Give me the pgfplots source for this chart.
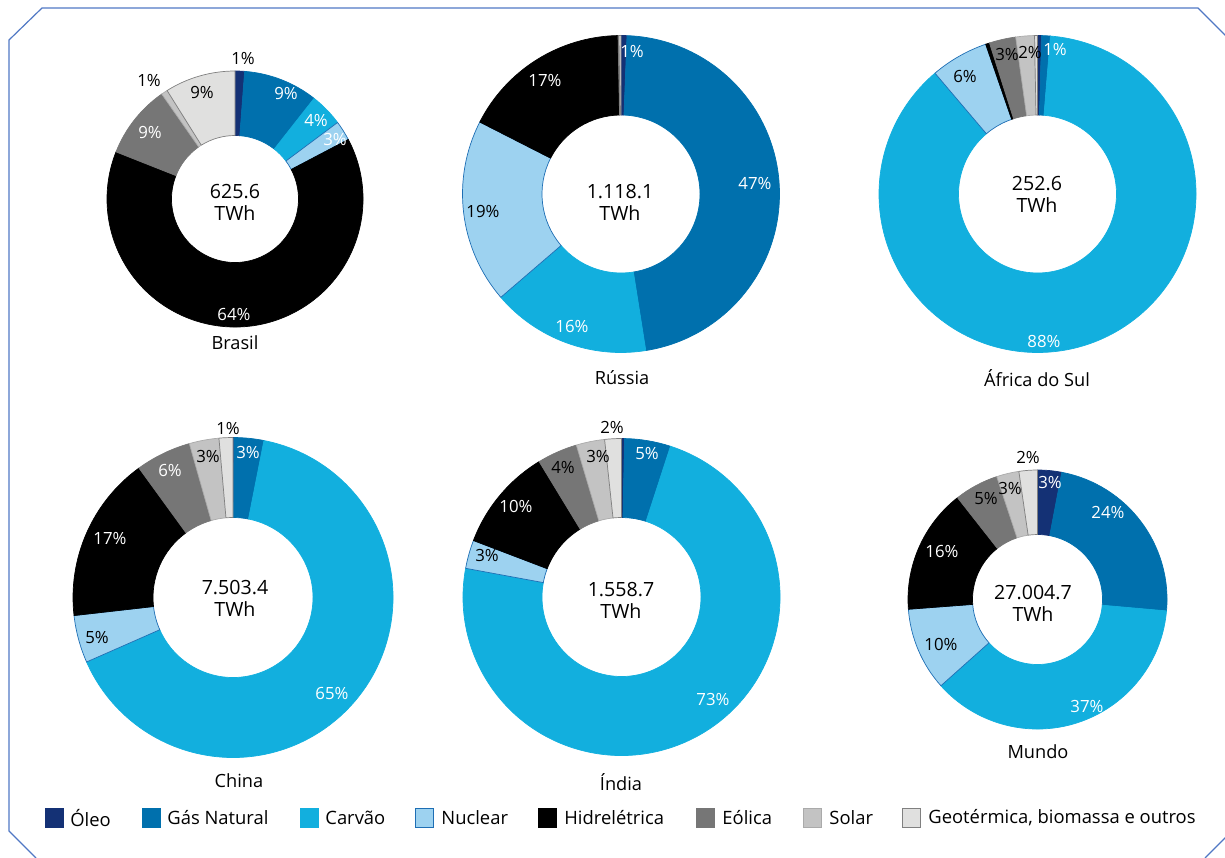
\documentclass[border=0pt]{standalone}
\usepackage{pgfplots}
\pgfplotsset{compat=1.18}
\usepackage{fontspec}
\setmainfont{Open Sans}
\definecolor{slice1}{RGB}{20,49,117}
\definecolor{slice2}{RGB}{0,112,173}
\definecolor{slice3}{RGB}{18,175,222}
\definecolor{slice4}{RGB}{157,210,240}
\definecolor{slice5}{RGB}{0,0,0}
\definecolor{slice6}{RGB}{118,118,118}
\definecolor{slice7}{RGB}{195,195,195}
\definecolor{slice8}{RGB}{224,224,223}
\definecolor{bslice1}{RGB}{20,49,117}
\definecolor{bslice2}{RGB}{0,112,173}
\definecolor{bslice3}{RGB}{18,175,222}
\definecolor{bslice4}{RGB}{30,110,180}
\definecolor{bslice5}{RGB}{0,0,0}
\definecolor{bslice6}{RGB}{118,118,118}
\definecolor{bslice7}{RGB}{170,170,170}
\definecolor{bslice8}{RGB}{128,128,128}
\definecolor{frame}{RGB}{80,120,196}
% shares (%) in order: Oleo, Gas Natural, Carvao, Nuclear, Hidreletrica, Eolica, Solar, Geotermica
\def\dataBrasil{1.2,9.4,4.2,2.5,63.7,9.3,0.8,8.9}
\def\dataRussia{0.6,46.9,16.2,18.8,17.2,0.1,0,0.2}
\def\dataAfrica{0.4,0.9,87.5,5.9,0.4,2.7,1.9,0.3}
\def\dataChina{0.1,3.0,65.3,4.8,16.8,5.6,3.0,1.4}
\def\dataIndia{0.3,4.7,72.9,2.9,10.5,4.1,2.9,1.7}
\def\dataMundo{3.0,23.4,37.0,10.4,15.6,5.5,2.8,2.3}
\newcommand\pctfont{\fontsize{8.4}{10}\selectfont}
\newcommand\cenfont{\fontsize{9.8}{11}\selectfont}
\newcommand\namefont{\fontsize{9.1}{11}\selectfont}
\newcommand\legfont{\fontsize{9.2}{11}\selectfont}
% #1 cx, #2 cy, #3 outer radius, #4 inner radius (px), #5 data list
\newcommand\donut[5]{%
  \gdef\cumA{0}%
  \pgfmathsetmacro\Ro{#3*0.5}%
  \pgfmathsetmacro\Ri{#4*0.5}%
  \foreach \v [count=\i] in #5 {%
    \pgfmathsetmacro\aS{90-3.6*\cumA}%
    \pgfmathsetmacro\cumB{\cumA+\v}%
    \pgfmathsetmacro\aE{90-3.6*\cumB}%
    \ifdim \v pt>0pt
      \filldraw[fill=slice\i, draw=bslice\i, line width=0.35pt, line join=round]
        (axis cs:#1,#2) ++(\aS:\Ro pt) arc[start angle=\aS, end angle=\aE, radius=\Ro pt]
        -- ([shift={(\aE:\Ri pt)}]axis cs:#1,#2)
        arc[start angle=\aE, end angle=\aS, radius=\Ri pt] -- cycle;
    \fi
    \xdef\cumA{\cumB}%
  }%
}
\newcommand\pl[4]{\node[font=\pctfont, text=#3, inner sep=0pt] at (axis cs:#1,#2) {#4};}
\newcommand\cen[3]{\node[font=\cenfont, align=center, inner sep=0pt] at (axis cs:#1,#2) {#3\\TWh};}
\newcommand\nm[3]{\node[font=\namefont, inner sep=0pt] at (axis cs:#1,#2) {#3};}
\newcommand\legsq[3]{%
  \filldraw[fill=#2, draw=#3, line width=0.4pt] (axis cs:#1,808.5) rectangle (axis cs:#1+18,827.5);
}
\begin{document}
\begin{tikzpicture}
\begin{axis}[x=0.5pt, y=0.5pt, xmin=0, xmax=1225, ymin=0, ymax=857,
  y dir=reverse, hide axis, scale only axis, clip=false]
\addplot[draw=none] coordinates {(0,0) (1225,857)};
\pgfplotsextra{%
  % frame
  \draw[frame, line width=0.6pt] (axis cs:1226,36) -- (axis cs:1198,8) -- (axis cs:42,8)
     -- (axis cs:9,40) -- (axis cs:9,831) -- (axis cs:36,858);
  \draw[frame, line width=0.6pt] (axis cs:1226,837) -- (axis cs:1205,858);
  % donuts
  \donut{235}{199}{128}{63.5}{\dataBrasil}
  \donut{621}{194}{158.5}{79}{\dataRussia}
  \donut{1037.5}{194}{158.5}{79}{\dataAfrica}
  \donut{233}{597.5}{160}{80}{\dataChina}
  \donut{621.5}{597}{158.5}{79.5}{\dataIndia}
  \donut{1037.5}{599.5}{129.5}{65}{\dataMundo}
  % Brasil labels
  \pl{243}{58}{black}{1\%}
  \pl{286}{93}{white}{9\%}
  \pl{316}{120}{white}{4\%}
  \pl{335}{139}{white}{3\%}
  \pl{234}{314}{white}{64\%}
  \pl{150}{132}{white}{9\%}
  \pl{149}{80}{black}{1\%}
  \pl{202}{92}{black}{9\%}
  \cen{235}{202}{625.6}
  \nm{235}{343}{Brasil}
  % Russia labels
  \pl{632}{51}{white}{1\%}
  \pl{755}{183}{white}{47\%}
  \pl{572}{326}{white}{16\%}
  \pl{483}{211}{black}{19\%}
  \pl{545}{80}{white}{17\%}
  \cen{620}{202}{1.118.1}
  \nm{622}{378}{Rússia}
  % Africa do Sul labels
  \pl{1055}{49}{white}{1\%}
  \pl{1030}{52}{black}{2\%}
  \pl{1007}{54}{black}{3\%}
  \pl{965}{76}{black}{6\%}
  \pl{1044}{341}{white}{88\%}
  \cen{1037}{194}{252.6}
  \nm{1037}{378}{África do Sul}
  % China labels
  \pl{228}{428}{black}{1\%}
  \pl{248}{452}{white}{3\%}
  \pl{208}{456}{black}{3\%}
  \pl{170}{470}{white}{6\%}
  \pl{110}{538}{white}{17\%}
  \pl{97}{637}{black}{5\%}
  \pl{332}{693}{white}{65\%}
  \cen{235}{598}{7.503.4}
  \nm{239}{781}{China}
  % India labels
  \pl{612}{427}{black}{2\%}
  \pl{647}{453}{white}{5\%}
  \pl{598}{456}{black}{3\%}
  \pl{563}{467}{black}{4\%}
  \pl{516}{506}{white}{10\%}
  \pl{487}{555}{black}{3\%}
  \pl{713}{699}{white}{73\%}
  \cen{621}{600}{1.558.7}
  \nm{621}{782}{Índia}
  % Mundo labels
  \pl{1028}{457}{black}{2\%}
  \pl{1050}{482}{white}{3\%}
  \pl{1108}{512}{white}{24\%}
  \pl{1010}{488}{black}{3\%}
  \pl{986}{498}{black}{5\%}
  \pl{942}{551}{white}{16\%}
  \pl{941}{644}{black}{10\%}
  \pl{1087}{706}{white}{37\%}
  \cen{1033}{603}{27.004.7}
  \nm{1038}{752}{Mundo}
  % legend
  \legsq{45}{slice1}{bslice1}
  \legsq{142}{slice2}{bslice2}
  \legsq{300}{slice3}{bslice3}
  \legsq{415}{slice4}{bslice4}
  \legsq{538}{slice5}{bslice5}
  \legsq{696}{slice6}{bslice6}
  \legsq{803}{slice7}{bslice7}
  \legsq{902}{slice8}{bslice8}
  \node[font=\legfont, anchor=west, inner sep=0pt] at (axis cs:70,818) {Óleo};
  \node[font=\legfont, anchor=west, inner sep=0pt] at (axis cs:167,818) {Gás Natural};
  \node[font=\legfont, anchor=west, inner sep=0pt] at (axis cs:325,818) {Carvão};
  \node[font=\legfont, anchor=west, inner sep=0pt] at (axis cs:441,818) {Nuclear};
  \node[font=\legfont, anchor=west, inner sep=0pt] at (axis cs:564,818) {Hidrelétrica};
  \node[font=\legfont, anchor=west, inner sep=0pt] at (axis cs:722,818) {Eólica};
  \node[font=\legfont, anchor=west, inner sep=0pt] at (axis cs:829,818) {Solar};
  \node[font=\legfont, anchor=west, inner sep=0pt] at (axis cs:928,818) {Geotérmica, biomassa e outros};
}
\end{axis}
\pgfresetboundingbox
\path[use as bounding box] (current axis.south west) rectangle (current axis.north east);
\end{tikzpicture}
\end{document}
